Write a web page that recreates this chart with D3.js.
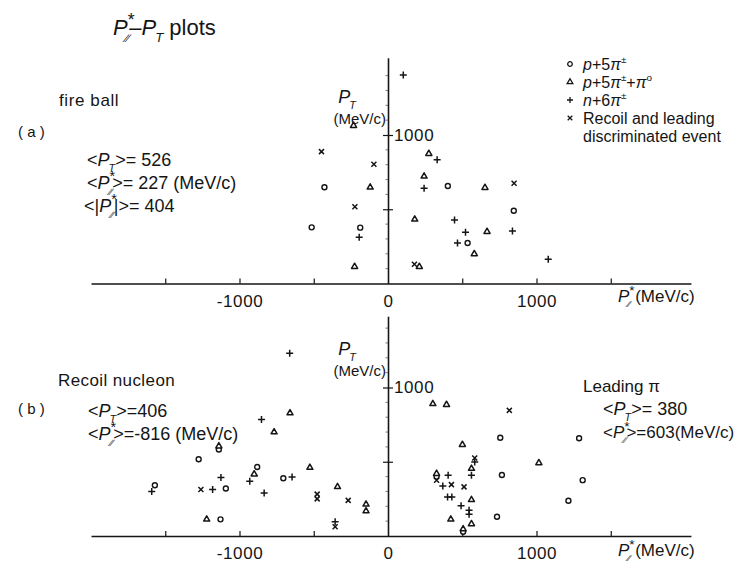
<!DOCTYPE html>
<html>
<head>
<meta charset="utf-8">
<script src="https://cdn.jsdelivr.net/npm/d3@7"></script>
<style>
  body { margin: 0; background: #fff; }
  text { font-family: "Liberation Sans", Arial, sans-serif; fill: #151515; }
</style>
</head>
<body>
<svg id="chart" width="739" height="564"></svg>
<script>
// ---- data: [P_parallel*, P_T] in MeV/c ----
// (a) fire ball
const fbCircle   = [[-428,648],[-514,378],[-187,376],[403,657],[847,490],[536,273]];
const fbTriangle = [[-232,1063],[-120,648],[-225,113],[275,874],[243,722],[653,645],[180,432],[667,349],[581,199],[211,113]];
const fbPlus     = [[103,1404],[-194,311],[331,834],[243,641],[448,428],[522,345],[838,354],[468,273],[1079,163]];
const fbCross    = [[-448,888],[-95,803],[-223,517],[849,675],[178,129]];

// (b) recoil nucleon (negative side) and leading pion (positive side)
const rlCircle   = [[-1139,582],[-1275,517],[-881,465],[-705,389],[-1570,342],[-1092,320],[-1128,112],
                    [756,662],[1287,658],[767,411],[1311,376],[327,400],[1215,237],[734,130],[506,29]];
const rlTriangle = [[-660,828],[-767,700],[-1139,605],[-901,416],[-526,461],[-340,331],[-148,213],[-148,168],[-1221,112],
                    [302,890],[394,884],[501,615],[562,454],[1016,492],[327,420],[562,244],[423,112],[562,81],[506,47]];
const rlPlus     = [[-662,1230],[-852,785],[-931,369],[-646,398],[-1125,394],[-1591,300],[-1181,313],[-834,289],[-356,96],
                    [584,498],[562,409],[405,409],[369,337],[401,262],[430,262],[492,203],[546,174],[546,146]];
const rlCross    = [[-1260,313],[-477,282],[-477,250],[-268,240],[-356,62],
                    [817,846],[584,525],[327,376],[427,346],[512,331]];

const xTicks = [-1500,-1000,-500,0,500,1000,1500];
const xTickLabels = {"-1000":"-1000","0":"0","1000":"1000"};
const yTicks = [500,1000];
const yTickLabels = {"1000":"1000"};
const xExtent = [-2000, 2040];
const yExtentA = [0, 1520];
const yExtentB = [0, 1480];

// ---- layout ----
const svg = d3.select("#chart");
const ink = "#151515";
const k = 0.1485;          // px per MeV/c
const originX = 388;
const originA = 283.5, originB = 536;

const x = d3.scaleLinear().domain(xExtent)
  .range([originX + xExtent[0]*k, originX + xExtent[1]*k]);
const yA = d3.scaleLinear().domain(yExtentA).range([originA, originA - yExtentA[1]*k]);
const yB = d3.scaleLinear().domain(yExtentB).range([originB, originB - yExtentB[1]*k]);

// text with italic letters, sub- and superscripts
function rich(g, px, py, size, parts, anchor) {
  const t = g.append("text").attr("x", px).attr("y", py).attr("font-size", size);
  if (anchor) t.attr("text-anchor", anchor);
  let shift = 0;
  parts.forEach(p => {
    const target = p.sup ? -0.42*size : p.sub ? 0.32*size : 0;
    const s = t.append("tspan").text(p.t).attr("dy", target - shift);
    shift = target;
    if (p.sup || p.sub) s.attr("font-size", size*(p.scale || 0.62));
    if (p.it) s.attr("font-style", "italic");
    if (p.dx !== undefined) s.attr("dx", p.dx);
  });
  return t;
}
const Ppar = (dx) => [{t:"P", it:true},{t:"*", sup:true, scale:0.8},{t:"\u2215\u2215", sub:true, it:true, scale:0.5, dx:dx}];
const PT = [{t:"P", it:true},{t:"T", sub:true, it:true, scale:0.6, dx:-1}];

function drawPanel(y, yExtent) {
  const g = svg.append("g");
  const y0 = y(0);
  // horizontal axis with upward ticks
  const ax = d3.axisBottom(x).tickValues(xTicks).tickSizeInner(-5).tickSizeOuter(0).tickPadding(11)
    .tickFormat(d => xTickLabels[String(d)] || "");
  const gx = g.append("g").attr("transform", `translate(0,${y0})`).call(ax);
  gx.select(".domain").attr("stroke", ink).attr("stroke-width", 1.6);
  gx.selectAll(".tick line").attr("stroke", ink).attr("stroke-width", 1.2)
    .filter(d => d === 0).remove();
  gx.selectAll(".tick text").attr("font-size", 17).attr("fill", ink).attr("letter-spacing", 0.6)
    .attr("font-family", "Liberation Sans, Arial, sans-serif");

  // vertical axis through the origin, ticks crossing it
  const ay = d3.axisRight(y).tickValues(yTicks).tickSizeInner(5).tickSizeOuter(0).tickPadding(1)
    .tickFormat(d => yTickLabels[String(d)] || "");
  const gy = g.append("g").attr("transform", `translate(${x(0)},0)`).call(ay);
  gy.select(".domain").attr("stroke", ink).attr("stroke-width", 1.6);
  gy.selectAll(".tick line").attr("stroke", ink).attr("stroke-width", 1.2).attr("x1", -5);
  gy.selectAll(".tick text").attr("font-size", 17).attr("fill", ink).attr("letter-spacing", 0.6)
    .attr("font-family", "Liberation Sans, Arial, sans-serif");
  // faint minor ticks along the vertical axis
  gy.selectAll(".minor").data(d3.range(100, yExtent[1], 100).filter(v => v % 500))
    .join("line").attr("class","minor")
    .attr("x1", -2.5).attr("x2", 0).attr("y1", d => y(d)).attr("y2", d => y(d))
    .attr("stroke", "#555").attr("stroke-width", 0.8);
  return g;
}

function drawMarks(g, y, circ, tri, plus, cross) {
  const m = g.append("g").attr("fill", "none").attr("stroke", ink);
  m.selectAll(".c").data(circ).join("circle").attr("class","c")
    .attr("cx", d => x(d[0])).attr("cy", d => y(d[1])).attr("r", 2.5)
    .attr("fill", "#fff").attr("stroke-width", 1.4);
  const triPath = d3.symbol().type(d3.symbolTriangle).size(16)();
  m.selectAll(".t").data(tri).join("path").attr("class","t")
    .attr("d", triPath).attr("transform", d => `translate(${x(d[0])},${y(d[1])})`)
    .attr("fill", "#fff").attr("stroke-width", 1.5).attr("stroke-linejoin", "round");
  m.selectAll(".p").data(plus).join("path").attr("class","p")
    .attr("d", "M-3.5,0H3.5M0,-3.5V3.5").attr("transform", d => `translate(${x(d[0])},${y(d[1])})`)
    .attr("stroke-width", 1.5);
  m.selectAll(".x").data(cross).join("path").attr("class","x")
    .attr("d", "M-2.5,-2.5L2.5,2.5M-2.5,2.5L2.5,-2.5").attr("transform", d => `translate(${x(d[0])},${y(d[1])})`)
    .attr("stroke-width", 1.5);
}

// ---- panel (a) ----
const gA = drawPanel(yA, yExtentA);
drawMarks(gA, yA, fbCircle, fbTriangle, fbPlus, fbCross);
// ---- panel (b) ----
const gB = drawPanel(yB, yExtentB);
drawMarks(gB, yB, rlCircle, rlTriangle, rlPlus, rlCross);

// ---- axis titles ----
const T = svg.append("g");
rich(T, 347, 103, 18, PT, "middle");
T.append("text").attr("x", 386).attr("y", 124).attr("font-size", 15).attr("text-anchor","end").text("(MeV/c)");
rich(T, 347, 355, 18, PT, "middle");
T.append("text").attr("x", 386).attr("y", 376).attr("font-size", 15).attr("text-anchor","end").text("(MeV/c)");
rich(T, 618, 302, 17, [...Ppar(-7), {t:" (MeV/c)"}]);
rich(T, 618, 556, 17, [...Ppar(-7), {t:" (MeV/c)"}]);

// ---- title ----
rich(svg, 113, 35, 22, [...Ppar(-9), {t:"\u2013"}, ...PT, {t:"  plots"}]);

// ---- panel labels and averages ----
const L = svg.append("g");
L.append("text").attr("x", 18).attr("y", 137).attr("font-size", 15).text("( a )");
L.append("text").attr("x", 59).attr("y", 106).attr("font-size", 17).attr("letter-spacing", 0.6).text("fire ball");
rich(L, 87, 166, 18, [{t:"<"},...PT,{t:">= 526"}]);
rich(L, 87, 189, 18, [{t:"<"},...Ppar(-6),{t:">= 227 (MeV/c)"}]);
rich(L, 84, 212, 18, [{t:"<|"},...Ppar(-6),{t:"|>= 404"}]);

L.append("text").attr("x", 18).attr("y", 414).attr("font-size", 15).text("( b )");
L.append("text").attr("x", 58).attr("y", 386).attr("font-size", 17).attr("letter-spacing", 0.4).text("Recoil nucleon");
rich(L, 88, 417, 18, [{t:"<"},...PT,{t:">=406"}]);
rich(L, 88, 440, 18, [{t:"<"},...Ppar(-6),{t:">=-816 (MeV/c)"}]);

L.append("text").attr("x", 583).attr("y", 392).attr("font-size", 17).text("Leading \u03C0");
rich(L, 603, 415, 18, [{t:"<"},...PT,{t:">= 380"}]);
rich(L, 603, 438, 17, [{t:"<"},...Ppar(-6),{t:">=603(MeV/c)"}]);

// ---- legend ----
const legendItems = [
  {sym:"circle",   parts:[{t:"p", it:true},{t:"+5"},{t:"\u03C0", it:true},{t:"\u00B1", sup:true}]},
  {sym:"triangle", parts:[{t:"p", it:true},{t:"+5"},{t:"\u03C0", it:true},{t:"\u00B1", sup:true},{t:"+"},{t:"\u03C0", it:true},{t:"o", sup:true}]},
  {sym:"plus",     parts:[{t:"n", it:true},{t:"+6"},{t:"\u03C0", it:true},{t:"\u00B1", sup:true}]},
  {sym:"cross",    parts:[{t:"Recoil and leading"}]},
];
const lg = svg.append("g");
legendItems.forEach((it, i) => {
  const cy = 64 + i*18;
  const s = lg.append("g").attr("transform", `translate(570,${cy})`).attr("fill","#fff").attr("stroke", ink).attr("stroke-width", 1.3);
  if (it.sym === "circle") s.append("circle").attr("r", 2.3);
  if (it.sym === "triangle") s.append("path").attr("d", d3.symbol().type(d3.symbolTriangle).size(14)());
  if (it.sym === "plus") s.append("path").attr("d", "M-3,0H3M0,-3V3");
  if (it.sym === "cross") s.append("path").attr("d", "M-2.3,-2.3L2.3,2.3M-2.3,2.3L2.3,-2.3");
  rich(lg, 583, cy + 6, 16, it.parts);
});
lg.append("text").attr("x", 583).attr("y", 142).attr("font-size", 16).text("discriminated event");
</script>
</body>
</html>
